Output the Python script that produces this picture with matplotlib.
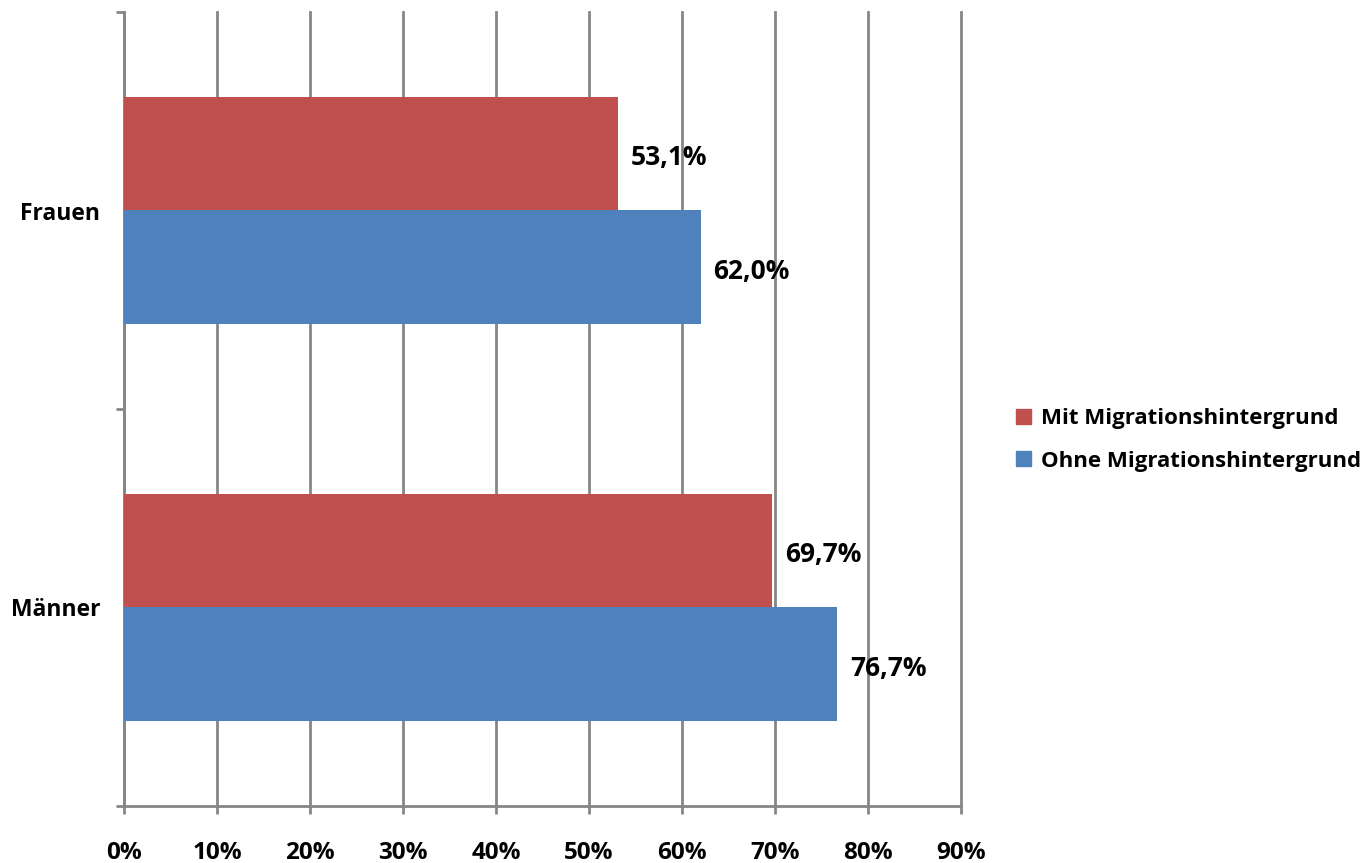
import matplotlib.pyplot as plt
from matplotlib.patches import Patch
import numpy as np

# Erwerbsquote nach Geschlecht und Migrationshintergrund
categories = ['Männer', 'Frauen']
mit_migration = [69.7, 53.1]
ohne_migration = [76.7, 62.0]
series_names = ['Mit Migrationshintergrund', 'Ohne Migrationshintergrund']
xtick_values = [0, 10, 20, 30, 40, 50, 60, 70, 80, 90]

red = '#C0504D'
blue = '#4F81BD'
grid_grey = '#868686'

plt.rcParams['font.family'] = ['Open Sans', 'DejaVu Sans']
plt.rcParams['font.weight'] = 'bold'

fig = plt.figure(figsize=(13.63, 8.63), dpi=100)
ax = fig.add_axes([124 / 1363, 1 - 806 / 863, (961 - 124) / 1363, (806 - 12) / 863])

y = np.arange(len(categories))
h = 0.286
ax.barh(y + h / 2, mit_migration, height=h, color=red, zorder=3)
ax.barh(y - h / 2, ohne_migration, height=h, color=blue, zorder=3)

def fmt(v):
    return f'{v:.1f}%'.replace('.', ',')

for yi, v in zip(y + h / 2, mit_migration):
    ax.text(v + 1.4, yi - 0.01, fmt(v), va='center', ha='left',
            fontsize=19, fontweight='bold', zorder=4)
for yi, v in zip(y - h / 2, ohne_migration):
    ax.text(v + 1.4, yi - 0.01, fmt(v), va='center', ha='left',
            fontsize=19, fontweight='bold', zorder=4)

ax.set_xlim(0, 90)
ax.set_ylim(-0.5, 1.5)
ax.set_xticks(xtick_values)
ax.set_xticklabels([f'{v}%' for v in xtick_values], fontsize=17.5, fontweight='bold')
ax.set_yticks(y)
ax.set_yticklabels(categories, fontsize=16.5, fontweight='bold')
ax.set_yticks([-0.5, 0.5, 1.5], minor=True)

ax.grid(axis='x', color=grid_grey, linewidth=2, zorder=0)
for gl in ax.get_xgridlines():
    gl.set_clip_on(False)
ax.tick_params(axis='x', length=6, width=2, color=grid_grey, pad=19)
ax.tick_params(axis='y', which='major', length=0, pad=17)
ax.tick_params(axis='y', which='minor', length=6, width=2, color=grid_grey)

for side in ['top', 'right']:
    ax.spines[side].set_visible(False)
for side in ['left', 'bottom']:
    ax.spines[side].set_color(grid_grey)
    ax.spines[side].set_linewidth(2)

handles = [Patch(color=red, label=series_names[0]),
           Patch(color=blue, label=series_names[1])]
fig.legend(handles=handles, loc='center left', bbox_to_anchor=(996 / 1363, 1 - 440 / 863),
           frameon=False, handlelength=0.68, handleheight=0.68,
           handletextpad=0.45, labelspacing=0.95, prop={'weight': 'bold', 'size': 16})

fig.savefig('out.png', dpi=100)
